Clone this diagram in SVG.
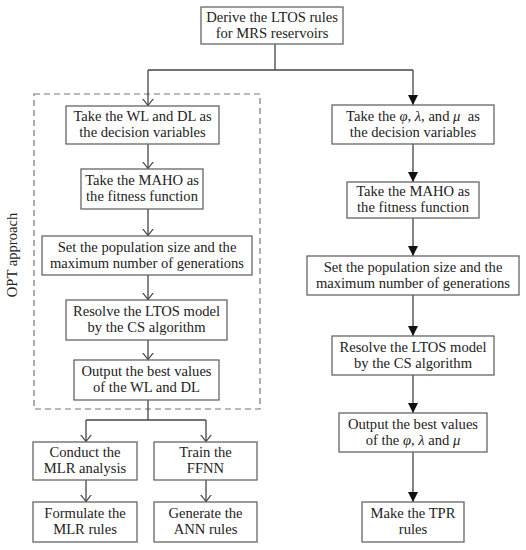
<svg xmlns="http://www.w3.org/2000/svg" width="526" height="550" viewBox="0 0 526 550">
<defs>
<style>
.box{fill:#fff;stroke:#666;stroke-width:1.3}
.ln{fill:none;stroke:#444;stroke-width:1.3}
.t{font-family:"Liberation Serif","Times New Roman",serif;font-size:14.6px;fill:#222;text-anchor:middle}
.dash{fill:none;stroke:#777;stroke-width:1.2;stroke-dasharray:6,4}
</style>
<marker id="open" markerUnits="userSpaceOnUse" viewBox="0 0 7 12" refX="7" refY="6" markerWidth="7" markerHeight="12" orient="auto">
<path d="M0,0.5 L7,6 L0,11.5" fill="none" stroke="#444" stroke-width="1.2"/>
</marker>
<marker id="fill" markerUnits="userSpaceOnUse" viewBox="0 0 10 10" refX="10" refY="5" markerWidth="10" markerHeight="10" orient="auto">
<path d="M0,0 L10,5 L0,10 z" fill="#111"/>
</marker>
</defs>
<rect width="526" height="550" fill="#fff"/>

<rect class="dash" x="34" y="94" width="226" height="315"/>
<text class="t" transform="translate(17,255) rotate(-90)">OPT approach</text>

<g id="connectors">
<path class="ln" d="M275,44 V70 M148,70 H413"/>
<path class="ln" d="M148,70 V105.5" marker-end="url(#open)"/>
<path class="ln" d="M148,144 V168.5" marker-end="url(#open)"/>
<path class="ln" d="M148,209 V235.5" marker-end="url(#open)"/>
<path class="ln" d="M148,275 V299.5" marker-end="url(#open)"/>
<path class="ln" d="M148,340 V359.5" marker-end="url(#open)"/>
<path class="ln" d="M148,400 V420 M86,420 H206"/>
<path class="ln" d="M86,420 V441.5" marker-end="url(#open)"/>
<path class="ln" d="M206,420 V441.5" marker-end="url(#open)"/>
<path class="ln" d="M86,480 V501.5" marker-end="url(#open)"/>
<path class="ln" d="M206,480 V501.5" marker-end="url(#open)"/>
<path class="ln" d="M413,70 V105" marker-end="url(#fill)"/>
<path class="ln" d="M413,144 V182" marker-end="url(#fill)"/>
<path class="ln" d="M413,218 V256" marker-end="url(#fill)"/>
<path class="ln" d="M413,295 V336" marker-end="url(#fill)"/>
<path class="ln" d="M413,375 V413" marker-end="url(#fill)"/>
<path class="ln" d="M413,452 V502" marker-end="url(#fill)"/>
</g>

<g id="n0"><rect class="box" x="201" y="7" width="142" height="37"/>
<text class="t" x="272" y="22">Derive the LTOS rules</text><text class="t" x="272" y="38">for MRS reservoirs</text></g>

<g id="l1"><rect class="box" x="66" y="106" width="153" height="38"/>
<text class="t" x="142.5" y="121">Take the WL and DL as</text><text class="t" x="142.5" y="137">the decision variables</text></g>
<g id="l2"><rect class="box" x="81" y="169" width="122" height="40"/>
<text class="t" x="142" y="185">Take the MAHO as</text><text class="t" x="142" y="201">the fitness function</text></g>
<g id="l3"><rect class="box" x="42" y="236" width="210" height="39"/>
<text class="t" x="147" y="252">Set the population size and the</text><text class="t" x="147" y="268">maximum number of generations</text></g>
<g id="l4"><rect class="box" x="66" y="300" width="161" height="40"/>
<text class="t" x="146.5" y="316">Resolve the LTOS model</text><text class="t" x="146.5" y="332">by the CS algorithm</text></g>
<g id="l5"><rect class="box" x="74" y="360" width="145" height="40"/>
<text class="t" x="146.5" y="376">Output the best values</text><text class="t" x="146.5" y="392">of the WL and DL</text></g>
<g id="l6"><rect class="box" x="33" y="442" width="104" height="38"/>
<text class="t" x="85" y="457">Conduct the</text><text class="t" x="85" y="473">MLR analysis</text></g>
<g id="l7"><rect class="box" x="154" y="442" width="103" height="38"/>
<text class="t" x="205.5" y="457">Train the</text><text class="t" x="205.5" y="473">FFNN</text></g>
<g id="l8"><rect class="box" x="33" y="502" width="104" height="40"/>
<text class="t" x="85" y="518">Formulate the</text><text class="t" x="85" y="534">MLR rules</text></g>
<g id="l9"><rect class="box" x="154" y="502" width="103" height="40"/>
<text class="t" x="205.5" y="518">Generate the</text><text class="t" x="205.5" y="534">ANN rules</text></g>

<g id="r1"><rect class="box" x="332" y="105" width="162" height="39"/>
<text class="t" x="413" y="121">Take the <tspan font-style="italic">φ</tspan>, <tspan font-style="italic">λ</tspan>, and <tspan font-style="italic">μ</tspan>&#160; as</text><text class="t" x="413" y="137">the decision variables</text></g>
<g id="r2"><rect class="box" x="347" y="182" width="132" height="36"/>
<text class="t" x="413" y="196">Take the MAHO as</text><text class="t" x="413" y="212">the fitness function</text></g>
<g id="r3"><rect class="box" x="307" y="256" width="212" height="39"/>
<text class="t" x="413" y="272">Set the population size and the</text><text class="t" x="413" y="288">maximum number of generations</text></g>
<g id="r4"><rect class="box" x="332" y="336" width="162" height="39"/>
<text class="t" x="413" y="352">Resolve the LTOS model</text><text class="t" x="413" y="368">by the CS algorithm</text></g>
<g id="r5"><rect class="box" x="339" y="413" width="148" height="39"/>
<text class="t" x="413" y="429">Output the best values</text><text class="t" x="413" y="445">of the <tspan font-style="italic">φ</tspan>, <tspan font-style="italic">λ</tspan> and <tspan font-style="italic">μ</tspan></text></g>
<g id="r6"><rect class="box" x="362" y="502" width="102" height="40"/>
<text class="t" x="413" y="518">Make the TPR</text><text class="t" x="413" y="534">rules</text></g>
</svg>
